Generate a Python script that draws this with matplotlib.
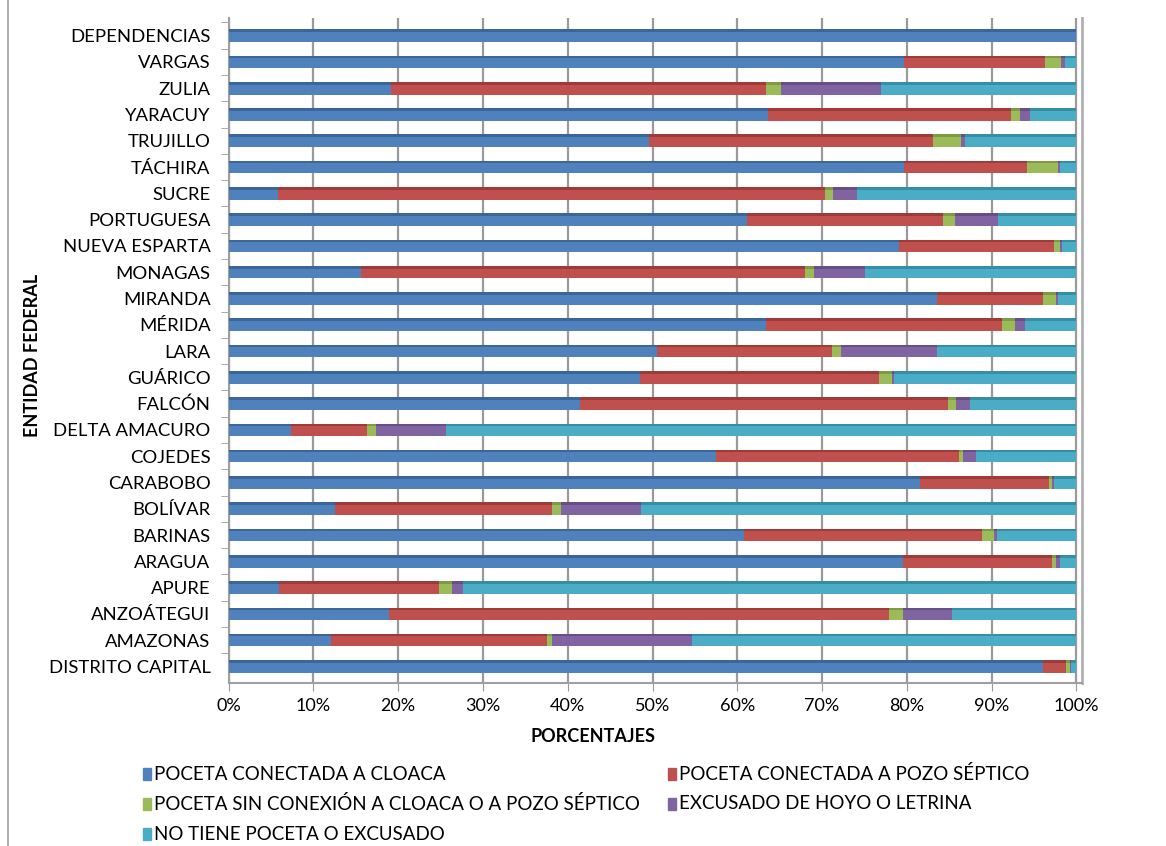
import numpy as np
import matplotlib.pyplot as plt
from matplotlib.patches import Rectangle

# categories, bottom to top
entidades = ["DISTRITO CAPITAL", "AMAZONAS", "ANZOÁTEGUI", "APURE", "ARAGUA",
             "BARINAS", "BOLÍVAR", "CARABOBO", "COJEDES", "DELTA AMACURO",
             "FALCÓN", "GUÁRICO", "LARA", "MÉRIDA", "MIRANDA", "MONAGAS",
             "NUEVA ESPARTA", "PORTUGUESA", "SUCRE", "TÁCHIRA", "TRUJILLO",
             "YARACUY", "ZULIA", "VARGAS", "DEPENDENCIAS"]

# percentages per category (same order as entidades)
cloaca = [96.1, 12.1, 18.9, 5.9, 79.5, 60.8, 12.6, 81.5, 57.5, 7.4,
          41.5, 48.5, 50.5, 63.4, 83.5, 15.6, 79.1, 61.1, 5.8, 79.6,
          49.6, 63.6, 19.2, 79.7, 100.0]
pozo = [2.7, 25.5, 59.0, 18.9, 17.6, 28.1, 25.6, 15.3, 28.6, 8.9,
        43.3, 28.2, 20.7, 27.8, 12.6, 52.4, 18.3, 23.1, 64.6, 14.6,
        33.5, 28.7, 44.2, 16.6, 0.0]
sin_conexion = [0.4, 0.5, 1.6, 1.6, 0.5, 1.4, 1.0, 0.3, 0.5, 1.1,
                1.0, 1.5, 1.0, 1.6, 1.5, 1.1, 0.6, 1.5, 0.9, 3.6,
                3.3, 1.0, 1.8, 1.9, 0.0]
letrina = [0.2, 16.6, 5.8, 1.2, 0.4, 0.3, 9.5, 0.2, 1.6, 8.3,
           1.7, 0.3, 11.4, 1.1, 0.2, 5.9, 0.3, 5.0, 2.8, 0.3,
           0.5, 1.2, 11.8, 0.5, 0.0]
no_tiene = [0.6, 45.3, 14.7, 72.4, 2.0, 9.4, 51.3, 2.7, 11.8, 74.3,
            12.5, 21.5, 16.4, 6.1, 2.2, 25.0, 1.7, 9.3, 25.9, 1.9,
            13.1, 5.5, 23.0, 1.3, 0.0]

series = [cloaca, pozo, sin_conexion, letrina, no_tiene]
nombres = ["POCETA CONECTADA A CLOACA", "POCETA CONECTADA A POZO SÉPTICO",
           "POCETA SIN CONEXIÓN A CLOACA O A POZO SÉPTICO",
           "EXCUSADO DE HOYO O LETRINA", "NO TIENE POCETA O EXCUSADO"]
colores = ["#4F81BD", "#C0504D", "#9BBB59", "#8064A2", "#4BACC6"]
bordes = ["#3B6699", "#9C3B38", "#7E9A45", "#654F85", "#368EA6"]
xticks = [0, 10, 20, 30, 40, 50, 60, 70, 80, 90, 100]

fuente = "Lato"
plt.rcParams['font.family'] = [fuente, 'DejaVu Sans']

fig = plt.figure(figsize=(11.66, 8.46), dpi=100)
ax = fig.add_axes([0.196, 0.193, 0.7316, 0.786])

y = np.arange(len(entidades))
h = 0.48
izq = np.zeros(len(entidades))
for vals, col, borde in zip(series, colores, bordes):
    vals = np.array(vals)
    ax.barh(y, vals, left=izq, height=h, color=col, edgecolor='none', zorder=3)
    # darker top strip to mimic the 3D shading
    ax.barh(y + h / 2 - 0.05, vals, left=izq, height=0.1, color=borde,
            edgecolor='none', zorder=4)
    izq += vals

ax.set_xlim(0, 100.6)
ax.set_ylim(-0.62, 24.68)
ax.set_xticks(xticks)
ax.set_xticklabels([f"{t}%" for t in xticks], fontsize=13)
ax.set_yticks(y)
ax.set_yticklabels(entidades, fontsize=13.3)
ax.set_yticks(y + 0.5, minor=True)
ax.tick_params(axis='y', which='major', length=0, pad=13)
ax.tick_params(axis='y', which='minor', length=6, color='#999999')
ax.tick_params(axis='x', length=6, color='#999999', pad=5)

ax.grid(axis='x', color='#9a9a9a', linewidth=1.6, zorder=1)
ax.spines['top'].set_visible(False)
ax.spines['right'].set_color('#b0b0b0')
ax.spines['right'].set_linewidth(2)
ax.spines['left'].set_color('#a0a0a0')
ax.spines['left'].set_linewidth(1.5)
ax.spines['bottom'].set_color('#a0a0a0')
ax.spines['bottom'].set_linewidth(1.5)

fig.text(0.509, 0.129, "PORCENTAJES", fontsize=13, fontweight='bold',
         ha='center', va='center')
fig.text(0.028, 0.58, "ENTIDAD FEDERAL", fontsize=13, fontweight='bold',
         rotation=90, ha='center', va='center')

# legend, two columns row by row
pos_leg = [(0.123, 0.085), (0.573, 0.085), (0.123, 0.050), (0.573, 0.050),
           (0.123, 0.014)]
for (px, py), nom, col in zip(pos_leg, nombres, colores):
    fig.patches.append(Rectangle((px, py - 0.007), 0.0065, 0.014,
                                 transform=fig.transFigure, color=col))
    fig.text(px + 0.009, py, nom, fontsize=13.5, ha='left', va='center')

# outer frame line on the left
fig.add_artist(plt.Line2D([0.007, 0.007], [0, 1], color='#a0a0a0',
                          linewidth=1.2, transform=fig.transFigure))

fig.savefig("out.png", dpi=100)
